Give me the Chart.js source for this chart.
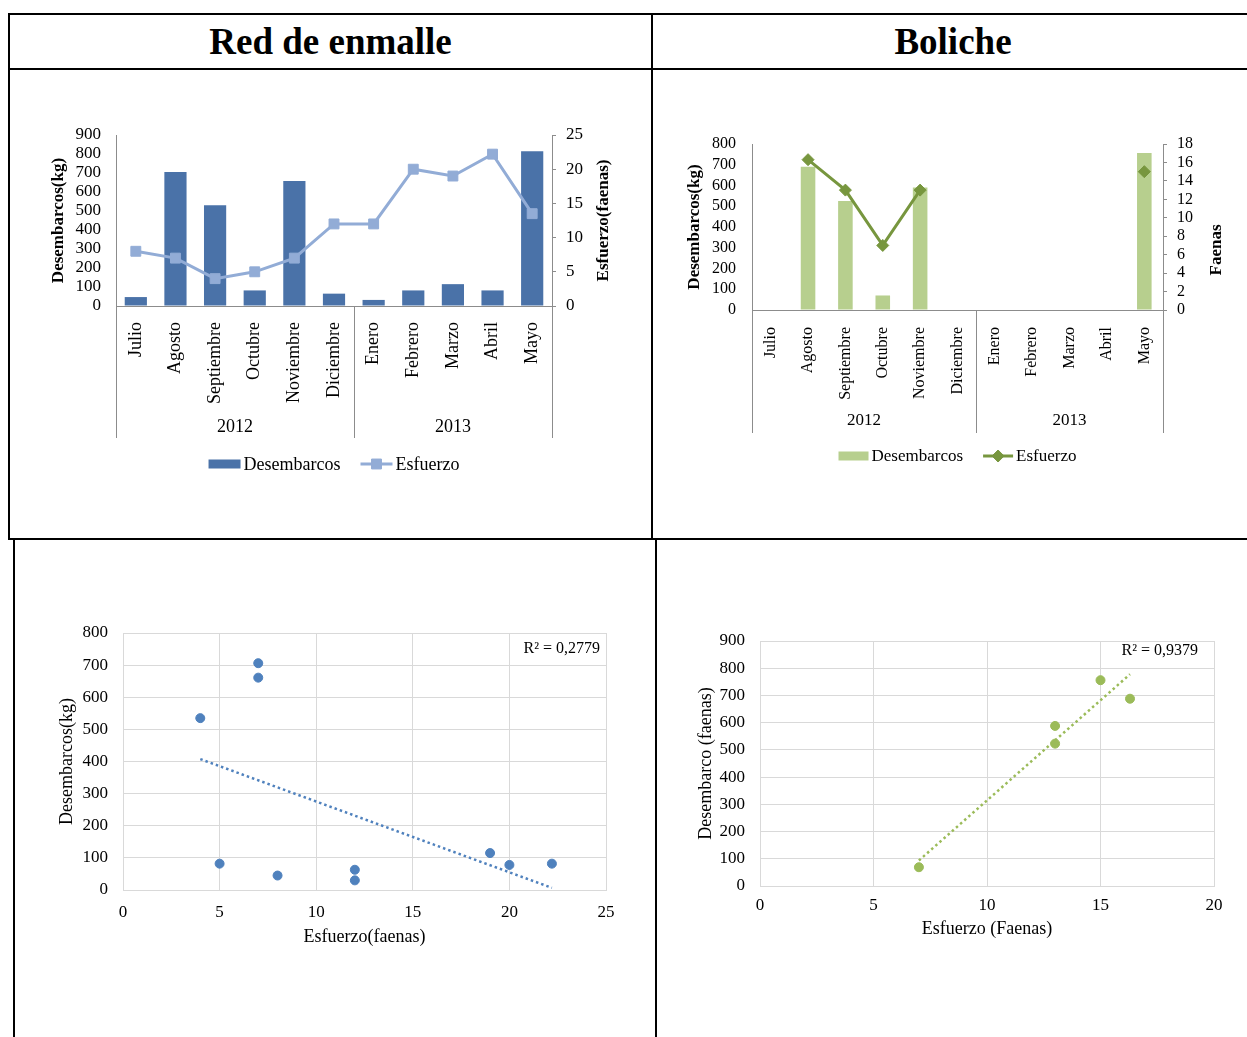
<!DOCTYPE html>
<html><head><meta charset="utf-8">
<script src="https://cdn.jsdelivr.net/npm/chart.js@4/dist/chart.umd.min.js"></script>
<style>
html,body{margin:0;padding:0;background:#fff;}
#page{position:relative;width:1247px;height:1037px;overflow:hidden;font-family:'Liberation Serif','Times New Roman',serif;}
.ln{position:absolute;background:#000;z-index:5;}
.hd{position:absolute;top:15px;height:53px;line-height:54px;text-align:center;font-weight:bold;font-size:37px;color:#000;}
.cv{position:absolute;}
</style></head><body><div id="page">
<div class="ln" style="left:8px;top:13px;width:1239px;height:2px"></div>
<div class="ln" style="left:8px;top:68px;width:1239px;height:2px"></div>
<div class="ln" style="left:8px;top:538px;width:1239px;height:2px"></div>
<div class="ln" style="left:8px;top:13px;width:2px;height:527px"></div>
<div class="ln" style="left:651px;top:13px;width:2px;height:527px"></div>
<div class="ln" style="left:13px;top:538px;width:2px;height:499px"></div>
<div class="ln" style="left:655px;top:538px;width:2px;height:499px"></div>
<div class="hd" style="left:10px;width:641px">Red de enmalle</div>
<div class="hd" style="left:653px;width:600px">Boliche</div>
<div class="cv" style="left:20px;top:100px"><canvas id="c1" width="620" height="400"></canvas></div>
<div class="cv" style="left:662px;top:100px"><canvas id="c2" width="585" height="400"></canvas></div>
<div class="cv" style="left:30px;top:600px"><canvas id="c3" width="610" height="380"></canvas></div>
<div class="cv" style="left:670px;top:600px"><canvas id="c4" width="577" height="380"></canvas></div>
</div>
<script>
// ---- data ----
const months = ['Julio','Agosto','Septiembre','Octubre','Noviembre','Diciembre','Enero','Febrero','Marzo','Abril','Mayo'];
const yearLabels = ['2012','2013'];
const yearSpans = [6,5];
const redDesembarcos = [47,705,530,82,658,65,32,82,115,82,815];
const redEsfuerzo = [8,7,4,5,7,12,12,20,19,22.2,13.5];
const bolDesembarcos = [null,690,525,70,590,null,null,null,null,null,757];
const bolEsfuerzo = [null,16.3,13,7,13,null,null,null,null,null,15];
const redScatterX = [8,7,4,5,7,12,12,20,19,22.2];
const redScatterY = [45,706,535,82,661,63,30,78,115,82];
const bolScatterX = [16.3,13,7,13,15];
const bolScatterY = [688,523,69,588,756];
const redR2 = 'R² = 0,2779';
const bolR2 = 'R² = 0,9379';

Chart.defaults.font.family = "'Liberation Serif','Times New Roman',serif";
Chart.defaults.color = '#000';

function fitLine(xs, ys){
  const n = xs.length;
  const mx = xs.reduce((a,b)=>a+b,0)/n, my = ys.reduce((a,b)=>a+b,0)/n;
  let sxy=0, sxx=0;
  xs.forEach((x,i)=>{ sxy += (x-mx)*(ys[i]-my); sxx += (x-mx)*(x-mx); });
  const b = sxy/sxx, a = my - b*mx;
  const x0 = Math.min(...xs), x1 = Math.max(...xs);
  return [{x:x0, y:a+b*x0}, {x:x1, y:a+b*x1}];
}

const groupAxis = {
  id:'groupAxis',
  afterDraw(chart, args, o){
    if(!o || !o.groups) return;
    const ctx = chart.ctx, ca = chart.chartArea, x = chart.scales.x;
    const step = x.getPixelForValue(1) - x.getPixelForValue(0);
    const edges = [x.getPixelForValue(0) - step/2];
    let idx = 0;
    o.groups.forEach(s => { idx += s; edges.push(x.getPixelForValue(idx-1) + step/2); });
    ctx.save();
    ctx.strokeStyle = o.lineColor; ctx.lineWidth = 1;
    edges.forEach(e => { const px = Math.round(e)+0.5; ctx.beginPath(); ctx.moveTo(px, ca.bottom); ctx.lineTo(px, ca.bottom + o.lineLen); ctx.stroke(); });
    ctx.fillStyle = '#000'; ctx.font = o.font; ctx.textAlign = 'center'; ctx.textBaseline = 'middle';
    o.labels.forEach((l,i) => ctx.fillText(l, (edges[i]+edges[i+1])/2, ca.bottom + o.labelOffset));
    ctx.restore();
  }
};

const customLegend = {
  id:'customLegend',
  afterDraw(chart, args, o){
    if(!o || !o.items) return;
    const ctx = chart.ctx, ca = chart.chartArea;
    ctx.save();
    ctx.font = o.font; ctx.textBaseline = 'middle'; ctx.textAlign = 'left';
    const sw = o.swatchW, tg = o.textGap, gap = o.gap;
    const widths = o.items.map(it => sw + tg + ctx.measureText(it.text).width);
    const total = widths.reduce((a,b)=>a+b,0) + gap*(o.items.length-1);
    let x = (ca.left+ca.right)/2 - total/2;
    const y = ca.bottom + o.offset;
    o.items.forEach((it,i) => {
      const ds = chart.data.datasets[it.ds];
      if (it.kind === 'bar') {
        ctx.fillStyle = ds.backgroundColor;
        ctx.fillRect(x, y - o.swatchH/2, sw, o.swatchH);
      } else {
        ctx.strokeStyle = ds.borderColor; ctx.lineWidth = ds.borderWidth;
        ctx.beginPath(); ctx.moveTo(x, y); ctx.lineTo(x+sw, y); ctx.stroke();
        ctx.fillStyle = ds.pointBackgroundColor; ctx.strokeStyle = ds.pointBackgroundColor; ctx.lineWidth = 1;
        Chart.helpers.drawPoint(ctx, {pointStyle: ds.pointStyle, radius: ds.pointRadius, rotation: 0, borderWidth: 1}, x+sw/2, y);
      }
      ctx.fillStyle = '#000';
      ctx.fillText(it.text, x + sw + tg, y + 1);
      x += widths[i] + gap;
    });
    ctx.restore();
  }
};

const sideTitle = {
  id:'sideTitle',
  afterDraw(chart, args, o){
    if(!o || !o.text) return;
    const ctx = chart.ctx, ca = chart.chartArea;
    ctx.save();
    ctx.translate(ca.right + o.dx, (ca.top+ca.bottom)/2 + (o.dy||0));
    ctx.rotate(-Math.PI/2);
    ctx.font = o.font; ctx.fillStyle = '#000'; ctx.textAlign = 'center'; ctx.textBaseline = 'middle';
    ctx.fillText(o.text, 0, 0);
    ctx.restore();
  }
};

const r2Label = {
  id:'r2Label',
  afterDraw(chart, args, o){
    if(!o || !o.text) return;
    const ctx = chart.ctx, ca = chart.chartArea;
    ctx.save();
    ctx.font = o.font; ctx.fillStyle = '#000'; ctx.textAlign = 'right'; ctx.textBaseline = 'middle';
    ctx.fillText(o.text, ca.right - o.dx, ca.top + o.dy);
    ctx.restore();
  }
};

function barLineChart(id, cfg){
  return new Chart(document.getElementById(id), {
    type:'bar',
    data:{
      labels: months,
      datasets:[
        {type:'line', label:'Esfuerzo', data: cfg.line, yAxisID:'y1', borderColor: cfg.lineColor, borderWidth: 3,
         pointStyle: cfg.pointStyle, pointRadius: cfg.pointRadius, pointBackgroundColor: cfg.lineColor, pointBorderColor: cfg.lineColor,
         pointBorderWidth: 1, spanGaps:false, tension:0, order:0},
        {type:'bar', label:'Desembarcos', data: cfg.bars, yAxisID:'y', backgroundColor: cfg.barColor,
         barPercentage: cfg.barPct, categoryPercentage: 1, order:1}
      ]
    },
    options:{
      responsive:false, animation:false,
      layout:{padding: cfg.padding},
      plugins:{
        legend:{display:false}, tooltip:{enabled:false},
        groupAxis:{groups: yearSpans, labels: yearLabels, lineColor:'#8c8c8c', lineLen: cfg.sepLen, labelOffset: cfg.yearOffset, font: cfg.yearFont},
        customLegend:{items:[{ds:1, kind:'bar', text:'Desembarcos'},{ds:0, kind:'line', text:'Esfuerzo'}],
          font: cfg.legendFont, swatchW: cfg.swW, swatchH: 9, textGap: 3, gap: 20, offset: cfg.legendOffset},
        sideTitle:{text: cfg.rightTitle, font:'bold 17px "Liberation Serif"', dx: cfg.rightTitleDx, dy: cfg.rightTitleDy}
      },
      scales:{
        x:{
          grid:{display:false}, border:{display:true, color:'#8c8c8c'},
          ticks:{autoSkip:false, minRotation:90, maxRotation:90, padding: cfg.xPad, font:{size: cfg.monthSize}},
          afterFit: s => { s.height = cfg.xHeight; }
        },
        y:{
          position:'left', min:0, max: cfg.yMax, 
          ticks:{stepSize:100, autoSkip:false, padding: cfg.yPad, font:{size: cfg.tickSize}},
          grid:{drawOnChartArea:false, drawTicks:false}, border:{display:true, color:'#8c8c8c'},
          title:{display:true, text:'Desembarcos(kg)', font:{size:17, weight:'bold'}, padding:{top: cfg.yTitlePad, bottom:0}},
          afterFit: s => { s.width = cfg.yWidth; }
        },
        y1:{
          position:'right', min:0, max: cfg.y1Max,
          ticks:{stepSize: cfg.y1Step, autoSkip:false, padding: cfg.y1Pad, font:{size: cfg.tickSize}},
          grid:{drawOnChartArea:false, drawTicks:true, tickLength:4, color:'#8c8c8c'}, border:{display:true, color:'#8c8c8c'},
          afterFit: s => { s.width = cfg.y1Width; }
        }
      }
    },
    plugins:[groupAxis, customLegend, sideTitle]
  });
}

barLineChart('c1', {
  bars: redDesembarcos, line: redEsfuerzo, barColor:'#4A72A8', lineColor:'#92ACD6',
  pointStyle:'rect', pointRadius:7, barPct:0.56,
  padding:{left:10, right:10, top:35, bottom:59}, xHeight:135, yWidth:86, y1Width:78,
  yMax:900, y1Max:25, y1Step:5, yPad:15, y1Pad:10, tickSize:17, yTitlePad:18,
  xPad:8, monthSize:18, yearFont:'18px "Liberation Serif"', legendFont:'18px "Liberation Serif"',
  sepLen:132, yearOffset:121, legendOffset:158, swW:32,
  rightTitle:'Esfuerzo(faenas)', rightTitleDx:52, rightTitleDy:0
});

barLineChart('c2', {
  bars: bolDesembarcos, line: bolEsfuerzo, barColor:'#B7CF8E', lineColor:'#77963E',
  pointStyle:'rectRot', pointRadius:6, barPct:0.39,
  padding:{left:10, right:10, top:44, bottom:60}, xHeight:130, yWidth:80, y1Width:74,
  yMax:800, y1Max:18, y1Step:2, yPad:16, y1Pad:10, tickSize:16, yTitlePad:12,
  xPad:9, monthSize:16, yearFont:'17px "Liberation Serif"', legendFont:'17px "Liberation Serif"',
  sepLen:123, yearOffset:111, legendOffset:146, swW:30,
  rightTitle:'Faenas', rightTitleDx:54, rightTitleDy:23
});

function scatterChart(id, cfg){
  return new Chart(document.getElementById(id), {
    type:'scatter',
    data:{datasets:[
      {type:'scatter', data: cfg.xs.map((x,i)=>({x, y: cfg.ys[i]})), backgroundColor: cfg.color, borderColor: cfg.color, pointRadius:4.5, order:0},
      {type:'line', data: fitLine(cfg.xs, cfg.ys), borderColor: cfg.color, borderWidth:2.5, borderDash:[2.5,3], pointRadius:0, fill:false, order:1}
    ]},
    options:{
      responsive:false, animation:false,
      layout:{padding: cfg.padding},
      plugins:{legend:{display:false}, tooltip:{enabled:false},
        r2Label:{text: cfg.r2, font:'16px "Liberation Serif"', dx: cfg.r2dx, dy: cfg.r2dy}},
      scales:{
        x:{type:'linear', min:0, max: cfg.xMax,
          ticks:{stepSize:5, padding: cfg.xPad, font:{size:17}},
          grid:{color:'#D9D9D9', drawTicks:false}, border:{color:'#D9D9D9'},
          title:{display:true, text: cfg.xTitle, font:{size:18}, padding:{top:0, bottom: cfg.xTitlePad}},
          afterFit: s => { s.height = 70; }
        },
        y:{min:0, max: cfg.yMax,
          ticks:{stepSize:100, autoSkip:false, padding:15, font:{size:17}},
          grid:{color:'#D9D9D9', drawTicks:false}, border:{color:'#D9D9D9'},
          title:{display:true, text: cfg.yTitle, font:{size:18}, padding:{top: cfg.yTitlePad, bottom:0}},
          afterFit: s => { s.width = cfg.yWidth; }
        }
      }
    },
    plugins:[r2Label]
  });
}

scatterChart('c3', {
  xs: redScatterX, ys: redScatterY, color:'#4F81BD', r2: redR2, r2dx:6, r2dy:16,
  padding:{left:10, right:34, top:33, bottom:20}, yWidth:83, xMax:25, yMax:800,
  xPad:12, xTitlePad:12, yTitlePad:16, xTitle:'Esfuerzo(faenas)', yTitle:'Desembarcos(kg)'
});

scatterChart('c4', {
  xs: bolScatterX, ys: bolScatterY, color:'#9BBB59', r2: bolR2, r2dx:16, r2dy:10,
  padding:{left:10, right:33, top:41, bottom:24}, yWidth:80, xMax:20, yMax:900,
  xPad:9, xTitlePad:16, yTitlePad:15, xTitle:'Esfuerzo (Faenas)', yTitle:'Desembarco (faenas)'
});
</script>
</body></html>
